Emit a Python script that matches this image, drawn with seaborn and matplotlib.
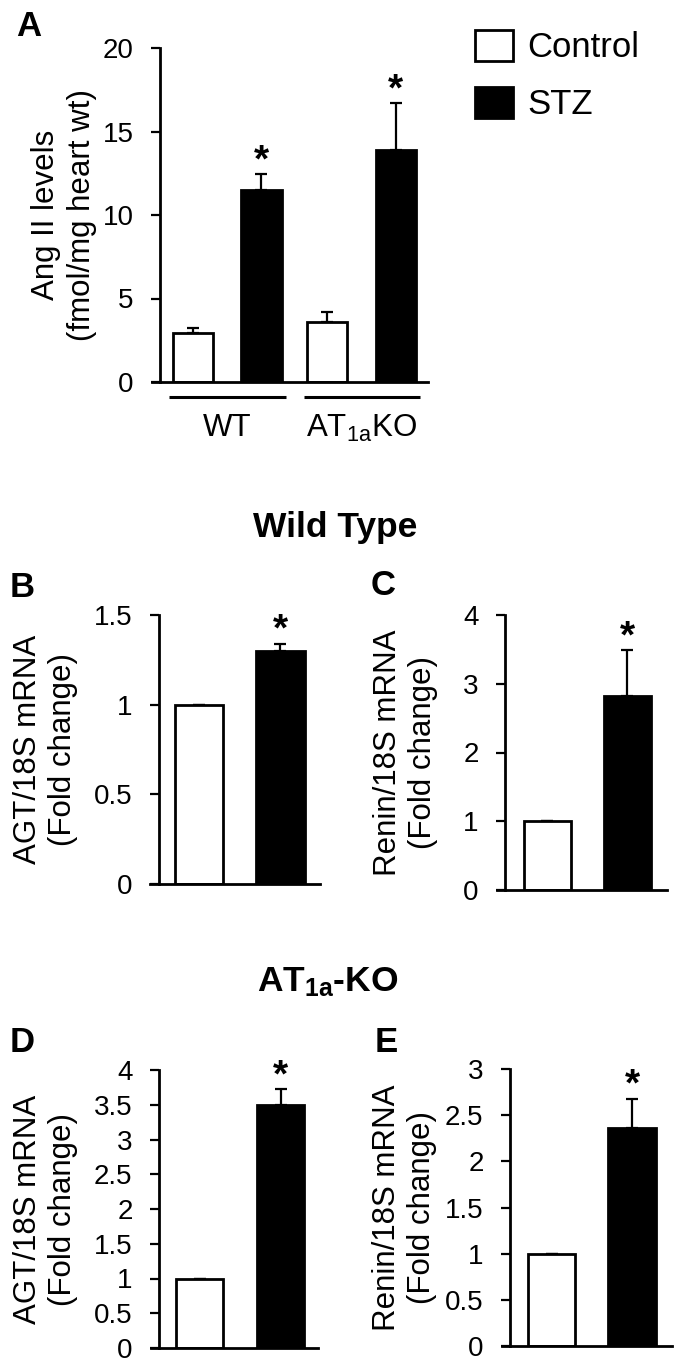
import numpy as np
import pandas as pd
import matplotlib
matplotlib.use("Agg")
import matplotlib.pyplot as plt
import matplotlib.transforms as mtrans
from matplotlib.patches import Patch
import seaborn as sns

# ---------------- data ----------------
treatments = ["Control", "STZ"]
groups_A = ["WT", "AT$_{\\mathrm{1a}}$KO"]
angii_control = [2.95, 3.6]
angii_stz = [11.5, 13.9]
angii_control_err = [0.3, 0.6]
angii_stz_err = [0.95, 2.8]

agt_wt = [1.0, 1.30]
agt_wt_err = [0.0, 0.04]
renin_wt = [1.0, 2.82]
renin_wt_err = [0.0, 0.67]
agt_ko = [1.0, 3.50]
agt_ko_err = [0.0, 0.23]
renin_ko = [1.0, 2.36]
renin_ko_err = [0.0, 0.32]

yticks_A = [0, 5, 10, 15, 20]
yticks_B = [0, 0.5, 1, 1.5]
yticks_C = [0, 1, 2, 3, 4]
yticks_D = [0, 0.5, 1, 1.5, 2, 2.5, 3, 3.5, 4]
yticks_E = [0, 0.5, 1, 1.5, 2, 2.5, 3]

ylabel_A = "Ang II levels\n(fmol/mg heart wt)"
ylabel_agt = "AGT/18S mRNA\n(Fold change)"
ylabel_renin = "Renin/18S mRNA\n(Fold change)"

# ---------------- style ----------------
sns.set_style("ticks")
plt.rcParams["font.family"] = ["Liberation Sans", "DejaVu Sans"]
plt.rcParams["mathtext.fontset"] = "custom"
plt.rcParams["mathtext.rm"] = "Liberation Sans"
plt.rcParams["mathtext.it"] = "Liberation Sans:italic"
plt.rcParams["mathtext.bf"] = "Liberation Sans:bold"
for k in ["text.color", "axes.labelcolor", "xtick.color", "ytick.color", "axes.edgecolor"]:
    plt.rcParams[k] = "black"

TICK_FS = 20
LABEL_FS = 22.5
palette = {"Control": "white", "STZ": "black"}
W, H = 685, 1364
fig = plt.figure(figsize=(W / 100, H / 100), dpi=100)


def add_ax(x0, x1, ytop, ybot, spine_x):
    ax = fig.add_axes([x0 / W, 1 - ybot / H, (x1 - x0) / W, (ybot - ytop) / H])
    ax.spines["left"].set_position(("axes", (spine_x - x0) / (x1 - x0)))
    for s in ["top", "right"]:
        ax.spines[s].set_visible(False)
    for s in ["left", "bottom"]:
        ax.spines[s].set_linewidth(2)
        ax.spines[s].set_color("black")
    ax.tick_params(axis="y", direction="out", length=6.5, width=1.6,
                   labelsize=TICK_FS, pad=12.5, colors="black")
    ax.tick_params(axis="x", length=0, labelsize=LABEL_FS, colors="black")
    return ax


def fmt(v):
    return "%g" % v


def style_y(ax, ticks, label, label_x, linespacing):
    ax.set_ylim(ticks[0], ticks[-1])
    ax.set_yticks(ticks)
    ax.set_yticklabels([fmt(t) for t in ticks], fontsize=TICK_FS)
    ax.set_ylabel(label, fontsize=LABEL_FS, linespacing=linespacing, color="black")
    ax.yaxis.set_label_coords(label_x, 0.5)


def add_errs_and_stars(ax, errs, star_flags):
    bars = sorted(ax.patches, key=lambda p: p.get_x())
    xs = [p.get_x() + p.get_width() / 2 for p in bars]
    hs = [p.get_height() for p in bars]
    ax.errorbar(xs, hs, yerr=[np.zeros(len(errs)), errs], fmt="none",
                ecolor="black", elinewidth=1.6, capsize=4, capthick=1.6,
                zorder=0.5)
    for x, h, e, s in zip(xs, hs, errs, star_flags):
        if s:
            ax.annotate("*", xy=(x, h + e), xytext=(0, 2), textcoords="offset points",
                        ha="center", va="baseline", fontsize=28, fontweight="bold",
                        color="black", annotation_clip=False)
    return bars


# ---------------- Panel A ----------------
axA = add_ax(152, 428, 48, 382, 160)
dfA = pd.DataFrame({
    "group": groups_A * 2,
    "treatment": ["Control"] * 2 + ["STZ"] * 2,
    "value": angii_control + angii_stz,
})
sns.barplot(data=dfA, x="group", y="value", hue="treatment", order=groups_A,
            hue_order=treatments, palette=palette, edgecolor="black", linewidth=2,
            width=1.02, gap=0.41, errorbar=None, legend=False, ax=axA)
errsA = [angii_control_err[0], angii_stz_err[0], angii_control_err[1], angii_stz_err[1]]
barsA = add_errs_and_stars(axA, errsA, [False, True, False, True])
axA.set_xlim(-0.5605, 1.4954)
style_y(axA, yticks_A, ylabel_A, -0.199, 1.25)
axA.set_xlabel("")
axA.set_xticks([0, 1])
axA.set_xticklabels(groups_A, fontsize=LABEL_FS)
axA.tick_params(axis="x", pad=22)
# group underlines
trans = mtrans.blended_transform_factory(axA.transData, axA.transAxes)
for i in range(2):
    b0, b1 = barsA[2 * i], barsA[2 * i + 1]
    left = b0.get_x() - 0.025
    right = b1.get_x() + b1.get_width() + 0.03
    axA.plot([left, right], [-0.045, -0.045], color="black", lw=2.2,
             transform=trans, clip_on=False, solid_capstyle="butt")

# legend
handles = [Patch(facecolor="white", edgecolor="black", linewidth=2, label="Control"),
           Patch(facecolor="black", edgecolor="black", linewidth=2, label="STZ")]
fig.legend(handles=handles, loc="upper left", bbox_to_anchor=(475 / W, 1 - 30 / H),
           frameon=False, fontsize=25, handlelength=1.1, handleheight=1.0,
           handletextpad=0.4, labelspacing=0.64, borderpad=0, borderaxespad=0,
           labelcolor="black")


# ---------------- Panels B-E ----------------
def small_panel(x0, x1, ytop, ybot, spine_x, vals, errs, xlim, ticks, label, label_x):
    ax = add_ax(x0, x1, ytop, ybot, spine_x)
    df = pd.DataFrame({"treatment": treatments, "value": vals})
    sns.barplot(data=df, x="treatment", y="value", hue="treatment", order=treatments,
                hue_order=treatments, palette=palette, edgecolor="black", linewidth=2,
                width=0.59, errorbar=None, legend=False, ax=ax)
    add_errs_and_stars(ax, errs, [False, True])
    ax.set_xlim(*xlim)
    style_y(ax, ticks, label, label_x, 1.2)
    ax.set_xlabel("")
    ax.set_xticks([])
    return ax


small_panel(150, 320, 615, 884, 159, agt_wt, agt_wt_err, (-0.601, 1.485),
            yticks_B, ylabel_agt, -0.424)
small_panel(497, 667, 615, 890, 505, renin_wt, renin_wt_err, (-0.631, 1.494),
            yticks_C, ylabel_renin, -0.347)
small_panel(151, 318, 1070, 1348, 159, agt_ko, agt_ko_err, (-0.599, 1.463),
            yticks_D, ylabel_agt, -0.437)
small_panel(502, 672, 1069, 1346, 510, renin_ko, renin_ko_err, (-0.615, 1.497),
            yticks_E, ylabel_renin, -0.382)

# ---------------- titles & panel letters ----------------
fig.text(335 / W, 1 - 528 / H, "Wild Type", ha="center", va="center",
         fontsize=25.5, fontweight="bold", color="black")
fig.text(328 / W, 1 - 982 / H, "AT$_{\\mathbf{1a}}$-KO", ha="center", va="center",
         fontsize=25.5, fontweight="bold", color="black")
for letter, (x, y) in {"A": (29, 27), "B": (22, 587), "C": (383, 585),
                       "D": (22, 1042), "E": (386, 1042)}.items():
    fig.text(x / W, 1 - y / H, letter, ha="center", va="center",
             fontsize=25, fontweight="bold", color="black")

fig.savefig("out.png", dpi=100)
